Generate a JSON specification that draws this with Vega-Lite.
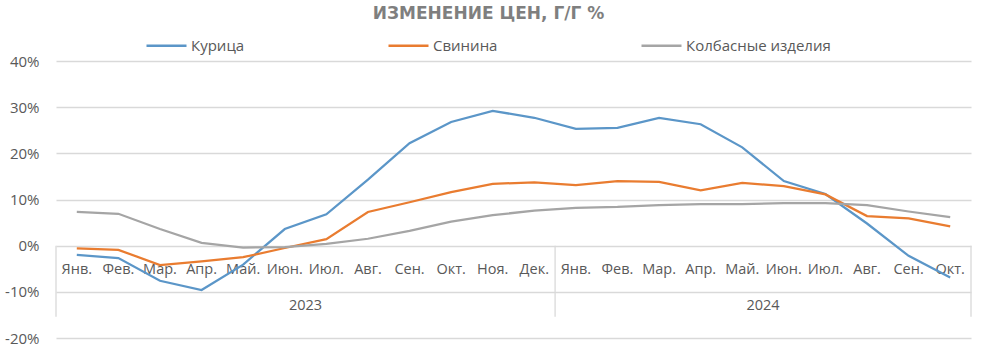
{
  "$schema": "https://vega.github.io/schema/vega-lite/v6.json",
  "width": 915,
  "height": 277,
  "autosize": {"type": "none"},
  "padding": {"left": 56, "top": 61, "right": 12, "bottom": 17},
  "background": "white",
  "config": {"font": "Open Sans", "view": {"stroke": null}},
  "title": {"text": "ИЗМЕНЕНИЕ ЦЕН, Г/Г %", "font": "DejaVu Sans", "fontSize": 17, "fontWeight": "bold", "color": "#7f7f7f", "anchor": "middle", "dx": -25, "offset": 1},
  "datasets": {
    "main": [
      {"m": "2023-01", "s": "Курица", "v": -2.0},
      {"m": "2023-02", "s": "Курица", "v": -2.7},
      {"m": "2023-03", "s": "Курица", "v": -7.6},
      {"m": "2023-04", "s": "Курица", "v": -9.6},
      {"m": "2023-05", "s": "Курица", "v": -4.1},
      {"m": "2023-06", "s": "Курица", "v": 3.6},
      {"m": "2023-07", "s": "Курица", "v": 6.8},
      {"m": "2023-08", "s": "Курица", "v": 14.3},
      {"m": "2023-09", "s": "Курица", "v": 22.2},
      {"m": "2023-10", "s": "Курица", "v": 26.8},
      {"m": "2023-11", "s": "Курица", "v": 29.2},
      {"m": "2023-12", "s": "Курица", "v": 27.7},
      {"m": "2024-01", "s": "Курица", "v": 25.3},
      {"m": "2024-02", "s": "Курица", "v": 25.5},
      {"m": "2024-03", "s": "Курица", "v": 27.7},
      {"m": "2024-04", "s": "Курица", "v": 26.3},
      {"m": "2024-05", "s": "Курица", "v": 21.3},
      {"m": "2024-06", "s": "Курица", "v": 14.0},
      {"m": "2024-07", "s": "Курица", "v": 11.2},
      {"m": "2024-08", "s": "Курица", "v": 4.8},
      {"m": "2024-09", "s": "Курица", "v": -2.2},
      {"m": "2024-10", "s": "Курица", "v": -6.9},
      {"m": "2023-01", "s": "Свинина", "v": -0.6},
      {"m": "2023-02", "s": "Свинина", "v": -0.9},
      {"m": "2023-03", "s": "Свинина", "v": -4.2},
      {"m": "2023-04", "s": "Свинина", "v": -3.4},
      {"m": "2023-05", "s": "Свинина", "v": -2.5},
      {"m": "2023-06", "s": "Свинина", "v": -0.5},
      {"m": "2023-07", "s": "Свинина", "v": 1.4},
      {"m": "2023-08", "s": "Свинина", "v": 7.3},
      {"m": "2023-09", "s": "Свинина", "v": 9.4},
      {"m": "2023-10", "s": "Свинина", "v": 11.6},
      {"m": "2023-11", "s": "Свинина", "v": 13.4},
      {"m": "2023-12", "s": "Свинина", "v": 13.7},
      {"m": "2024-01", "s": "Свинина", "v": 13.1},
      {"m": "2024-02", "s": "Свинина", "v": 14.0},
      {"m": "2024-03", "s": "Свинина", "v": 13.8},
      {"m": "2024-04", "s": "Свинина", "v": 12.0},
      {"m": "2024-05", "s": "Свинина", "v": 13.6},
      {"m": "2024-06", "s": "Свинина", "v": 12.9},
      {"m": "2024-07", "s": "Свинина", "v": 11.1},
      {"m": "2024-08", "s": "Свинина", "v": 6.4},
      {"m": "2024-09", "s": "Свинина", "v": 5.9},
      {"m": "2024-10", "s": "Свинина", "v": 4.2},
      {"m": "2023-01", "s": "Колбасные изделия", "v": 7.3},
      {"m": "2023-02", "s": "Колбасные изделия", "v": 6.9},
      {"m": "2023-03", "s": "Колбасные изделия", "v": 3.6},
      {"m": "2023-04", "s": "Колбасные изделия", "v": 0.6},
      {"m": "2023-05", "s": "Колбасные изделия", "v": -0.4},
      {"m": "2023-06", "s": "Колбасные изделия", "v": -0.3},
      {"m": "2023-07", "s": "Колбасные изделия", "v": 0.4},
      {"m": "2023-08", "s": "Колбасные изделия", "v": 1.5},
      {"m": "2023-09", "s": "Колбасные изделия", "v": 3.2},
      {"m": "2023-10", "s": "Колбасные изделия", "v": 5.2},
      {"m": "2023-11", "s": "Колбасные изделия", "v": 6.6},
      {"m": "2023-12", "s": "Колбасные изделия", "v": 7.6},
      {"m": "2024-01", "s": "Колбасные изделия", "v": 8.2},
      {"m": "2024-02", "s": "Колбасные изделия", "v": 8.4},
      {"m": "2024-03", "s": "Колбасные изделия", "v": 8.8},
      {"m": "2024-04", "s": "Колбасные изделия", "v": 9.0},
      {"m": "2024-05", "s": "Колбасные изделия", "v": 9.0},
      {"m": "2024-06", "s": "Колбасные изделия", "v": 9.2},
      {"m": "2024-07", "s": "Колбасные изделия", "v": 9.2},
      {"m": "2024-08", "s": "Колбасные изделия", "v": 8.8},
      {"m": "2024-09", "s": "Колбасные изделия", "v": 7.4},
      {"m": "2024-10", "s": "Колбасные изделия", "v": 6.2}
    ],
    "groupStart": [{"m": "2023-01"}, {"m": "2024-01"}],
    "groupEnd": [{"m": "2024-10"}],
    "years": [{"m": "2023-06", "year": "2023"}, {"m": "2024-05", "year": "2024"}]
  },
  "layer": [
    {
      "data": {"name": "main"},
      "mark": {"type": "line", "strokeWidth": 2.25},
      "encoding": {
        "x": {
          "field": "m", "type": "ordinal", "bandPosition": 0.5,
          "scale": {"type": "band", "paddingInner": 0, "paddingOuter": 0},
          "axis": {
            "title": null, "offset": -93, "domain": false, "ticks": false, "grid": false,
            "labelPadding": 17, "labelFontSize": 14.5, "labelColor": "#595959", "labelAngle": 0,
            "labelOverlap": false, "labelBound": false, "zindex": 0,
            "labelExpr": "['Янв.','Фев.','Мар.','Апр.','Май.','Июн.','Июл.','Авг.','Сен.','Окт.','Ноя.','Дек.'][toNumber(substring(datum.value, 5, 7)) - 1]"
          }
        },
        "y": {
          "field": "v", "type": "quantitative",
          "scale": {"domain": [-20, 40], "nice": false, "zero": false},
          "axis": {
            "title": null, "values": [-20, -10, 0, 10, 20, 30, 40], "grid": true, "gridColor": "#d9d9d9", "gridWidth": 1.3,
            "domain": false, "ticks": false, "labelPadding": 17, "labelFontSize": 15, "labelColor": "#595959",
            "labelExpr": "datum.value + '%'", "zindex": 0
          }
        },
        "color": {
          "field": "s", "type": "nominal",
          "scale": {"domain": ["Курица", "Свинина", "Колбасные изделия"], "range": ["#5B96C8", "#E97C30", "#A5A5A5"]},
          "legend": {
            "orient": "none", "legendX": 89, "legendY": -37, "direction": "horizontal", "columns": 3, "columnPadding": 138,
            "title": null, "symbolType": "stroke", "symbolSize": 1600, "symbolStrokeWidth": 2.5,
            "labelFontSize": 15, "labelColor": "#595959", "labelOffset": 3
          }
        }
      }
    },
    {
      "data": {"name": "groupStart"},
      "mark": {"type": "rule", "color": "#d9d9d9", "strokeWidth": 1.3},
      "encoding": {
        "x": {"field": "m", "type": "ordinal", "bandPosition": 0},
        "y": {"datum": 0, "type": "quantitative"},
        "y2": {"datum": -15.4}
      }
    },
    {
      "data": {"name": "groupEnd"},
      "mark": {"type": "rule", "color": "#d9d9d9", "strokeWidth": 1.3},
      "encoding": {
        "x": {"field": "m", "type": "ordinal", "bandPosition": 1},
        "y": {"datum": 0, "type": "quantitative"},
        "y2": {"datum": -15.4}
      }
    },
    {
      "data": {"name": "years"},
      "mark": {"type": "text", "fontSize": 14.5, "color": "#595959", "baseline": "middle", "align": "center"},
      "encoding": {
        "x": {"field": "m", "type": "ordinal", "bandPosition": 1},
        "y": {"datum": -13, "type": "quantitative"},
        "text": {"field": "year"}
      }
    }
  ]
}
